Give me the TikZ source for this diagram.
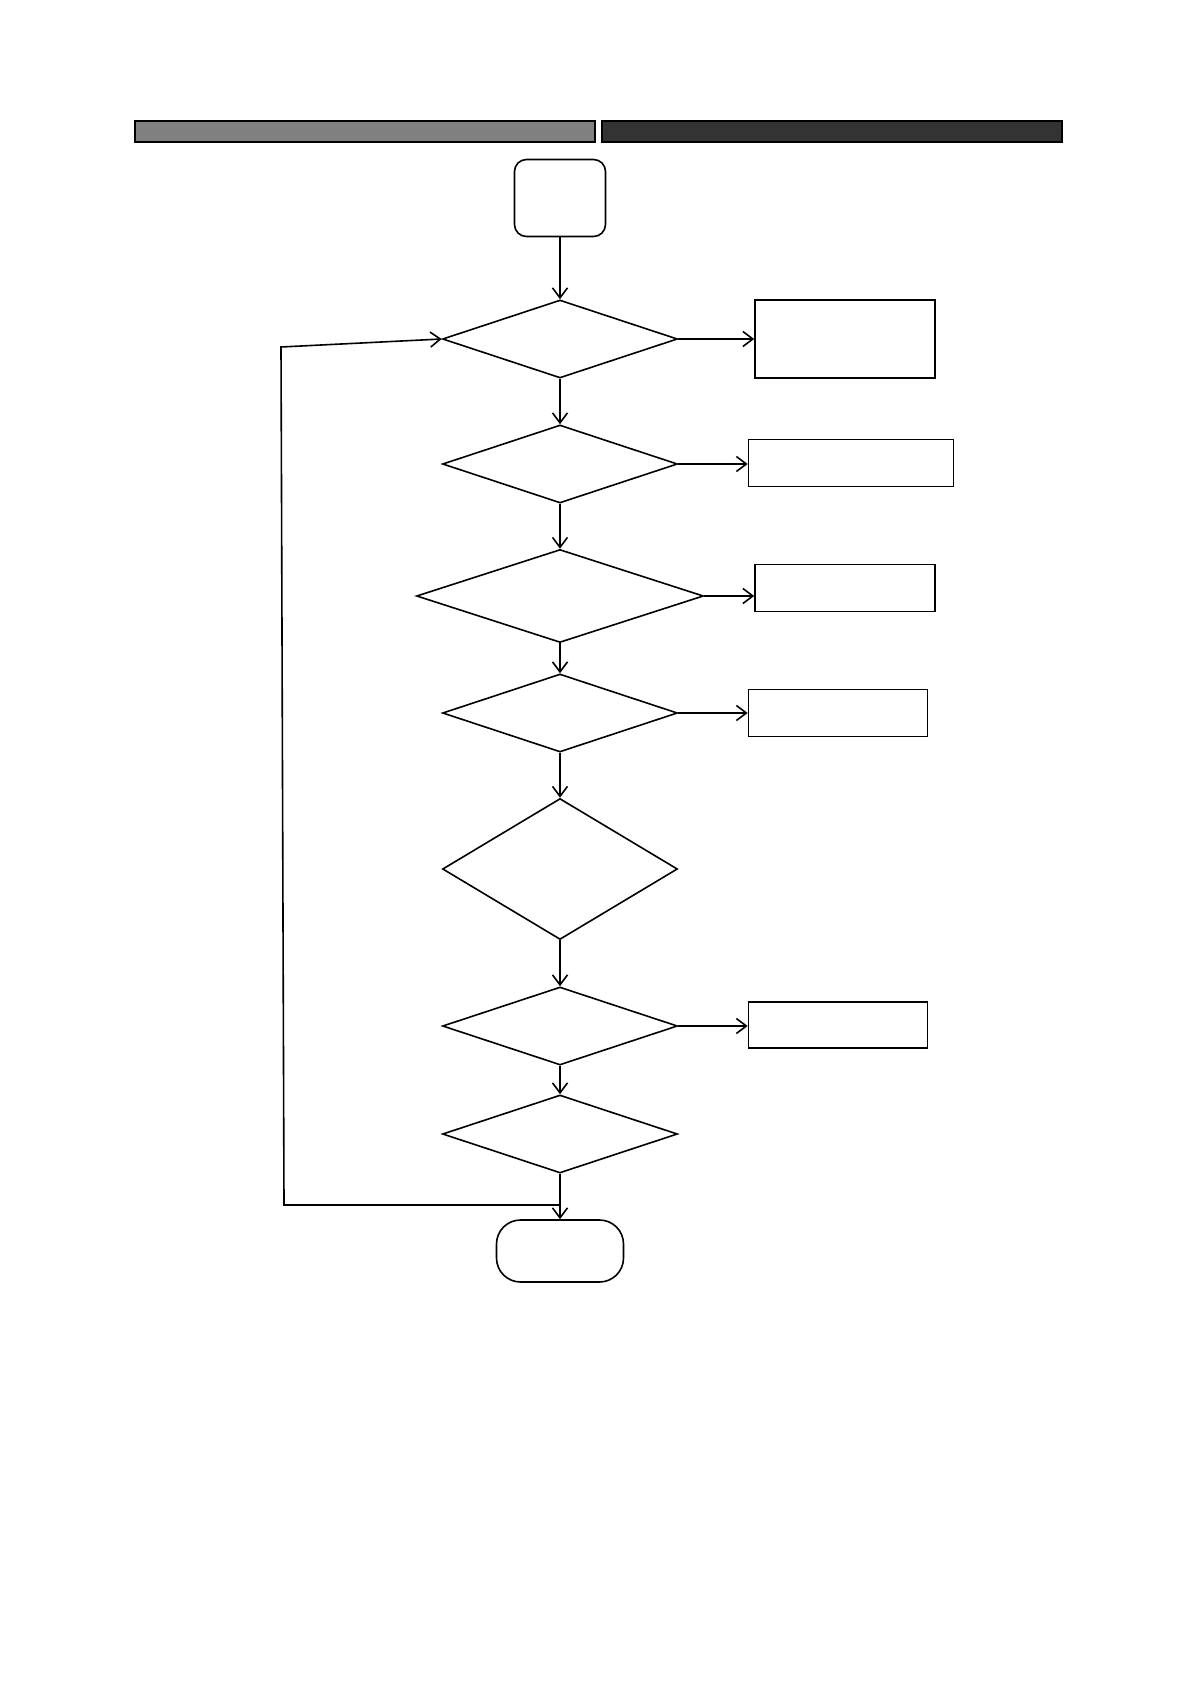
\documentclass[tikz,border=0pt]{standalone}
\usetikzlibrary{shapes.geometric,arrows.meta}
\definecolor{barlight}{HTML}{808080}
\definecolor{bardark}{HTML}{333333}
\begin{document}
\begin{tikzpicture}[x=0.5pt,y=-0.5pt,
  line width=0.8pt,
  dia/.style={draw,diamond,inner sep=0pt,minimum width=117.5pt,minimum height=39pt},
  box/.style={draw,rectangle,inner sep=0pt},
  term/.style={draw,rectangle,rounded corners=6pt,inner sep=0pt},
  arr/.style={-{Straight Barb[length=5pt,width=7.5pt]}}]
\useasboundingbox[fill=white] (0,0) rectangle (1191,1684);
% header bars
\draw[fill=barlight,line width=1pt] (135,121) rectangle (595,142);
\draw[fill=bardark,line width=1pt] (602,121) rectangle (1062,142);
% nodes
\node[term,minimum width=45.5pt,minimum height=38.5pt] (start) at (560,198) {};
\node[dia] (d1) at (560,339) {};
\node[box,minimum width=90pt,minimum height=39pt] (r1) at (845,339) {};
\node[dia] (d2) at (560,464) {};
\node[box,minimum width=102.5pt,minimum height=23.5pt] (r2) at (851,463) {};
\node[dia,minimum width=143.5pt,minimum height=46.5pt] (d3) at (560,596) {};
\node[box,minimum width=90pt,minimum height=23.5pt] (r3) at (845,588) {};
\node[dia] (d4) at (560,713) {};
\node[box,minimum width=89.5pt,minimum height=23.5pt] (r4) at (838,713) {};
\node[dia,minimum height=70.5pt] (d5) at (560,869) {};
\node[dia] (d6) at (560,1026) {};
\node[box,minimum width=89.5pt,minimum height=23pt] (r6) at (838,1025) {};
\node[dia] (d7) at (560,1134) {};
\node[term,rounded corners=12pt,minimum width=63.5pt,minimum height=31pt] (end) at (560,1251) {};
% main flow
\draw[arr] (start) -- (d1);
\draw[arr] (d1) -- (d2);
\draw[arr] (d2) -- (d3);
\draw[arr] (d3) -- (d4);
\draw[arr] (d4) -- (d5);
\draw[arr] (d5) -- (d6);
\draw[arr] (d6) -- (d7);
\draw[arr] (d7) -- (end);
% side branches
\draw[arr] (d1.east) -- (d1.east -| r1.west);
\draw[arr] (d2.east) -- (d2.east -| r2.west);
\draw[arr] (d3.east) -- (d3.east -| r3.west);
\draw[arr] (d4.east) -- (d4.east -| r4.west);
\draw[arr] (d6.east) -- (d6.east -| r6.west);
% loop back
\coordinate (lpA) at (560,1205);
\coordinate (lpB) at (284,1205);
\coordinate (lpC) at (281,347);
\draw[arr] (lpA) -- (lpB) -- (lpC) -- (d1.west);
\end{tikzpicture}
\end{document}
